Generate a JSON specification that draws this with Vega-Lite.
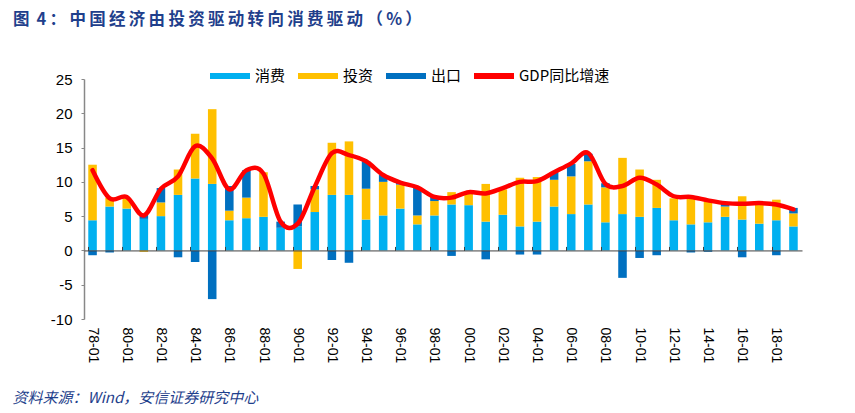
{
  "$schema": "https://vega.github.io/schema/vega-lite/v6.json",
  "width": 718,
  "height": 240,
  "autosize": {"type": "none"},
  "padding": {"left": 84, "top": 79, "right": 53, "bottom": 94},
  "background": "white",
  "title": {
    "text": "图\u2009 4\u2009：\u2009中\u2009国\u2009经\u2009济\u2009由\u2009投\u2009资\u2009驱\u2009动\u2009转\u2009向\u2009消\u2009费\u2009驱\u2009动\u2009（\u2009%\u2009）",
    "anchor": "start",
    "frame": "group",
    "dx": -71,
    "offset": 28,
    "font": "Noto Sans CJK SC",
    "fontSize": 16.5,
    "fontWeight": "bold",
    "color": "#1F3F8C"
  },
  "config": {
    "view": {"stroke": null},
    "legend": {
      "orient": "none",
      "legendX": 126,
      "legendY": -23,
      "direction": "horizontal",
      "title": null,
      "symbolType": "M-1,-0.15H1V0.15H-1Z",
      "symbolSize": 1600,
      "symbolStrokeWidth": 0,
      "labelFont": "Noto Sans CJK SC",
      "labelFontSize": 15,
      "labelColor": "#000000",
      "labelOffset": 5,
      "columnPadding": 12
    }
  },
  "data": {
    "values": [
      {"date": "78-01", "消费": 4.4, "投资": 8.1, "出口": -0.7, "GDP": 11.7},
      {"date": "79-01", "消费": 6.4, "投资": 1.3, "出口": -0.3, "GDP": 7.6},
      {"date": "80-01", "消费": 6.1, "投资": 1.5, "出口": 0.0, "GDP": 7.8},
      {"date": "81-01", "消费": 4.6, "投资": -0.2, "出口": 0.6, "GDP": 5.1},
      {"date": "82-01", "消费": 5.0, "投资": 2.0, "出口": 2.1, "GDP": 9.0},
      {"date": "83-01", "消费": 8.1, "投资": 3.7, "出口": -1.0, "GDP": 10.8},
      {"date": "84-01", "消费": 10.5, "投资": 6.5, "出口": -1.7, "GDP": 15.2},
      {"date": "85-01", "消费": 9.7, "投资": 10.9, "出口": -7.1, "GDP": 13.4},
      {"date": "86-01", "消费": 4.4, "投资": 1.4, "出口": 3.6, "GDP": 8.9},
      {"date": "87-01", "消费": 4.7, "投资": 3.0, "出口": 4.0, "GDP": 11.7},
      {"date": "88-01", "消费": 4.9, "投资": 6.5, "出口": 0.0, "GDP": 11.2},
      {"date": "89-01", "消费": 3.3, "投资": 0.0, "出口": 0.9, "GDP": 4.2},
      {"date": "90-01", "消费": 3.5, "投资": -2.7, "出口": 3.2, "GDP": 3.9},
      {"date": "91-01", "消费": 5.6, "投资": 3.3, "出口": 0.5, "GDP": 9.3},
      {"date": "92-01", "消费": 8.1, "投资": 7.6, "出口": -1.4, "GDP": 14.2},
      {"date": "93-01", "消费": 8.1, "投资": 7.8, "出口": -1.8, "GDP": 13.9},
      {"date": "94-01", "消费": 4.5, "投资": 4.5, "出口": 4.0, "GDP": 13.0},
      {"date": "95-01", "消费": 5.1, "投资": 4.9, "出口": 1.0, "GDP": 11.0},
      {"date": "96-01", "消费": 6.1, "投资": 3.5, "出口": 0.4, "GDP": 9.9},
      {"date": "97-01", "消费": 3.8, "投资": 1.3, "出口": 4.0, "GDP": 9.2},
      {"date": "98-01", "消费": 5.1, "投资": 2.1, "出口": 0.7, "GDP": 7.8},
      {"date": "99-01", "消费": 6.7, "投资": 1.8, "出口": -0.8, "GDP": 7.7},
      {"date": "00-01", "消费": 6.6, "投资": 1.8, "出口": 0.0, "GDP": 8.5},
      {"date": "01-01", "消费": 4.2, "投资": 5.5, "出口": -1.3, "GDP": 8.3},
      {"date": "02-01", "消费": 5.2, "投资": 3.7, "出口": 0.0, "GDP": 9.1},
      {"date": "03-01", "消费": 3.5, "投资": 7.1, "出口": -0.6, "GDP": 10.0},
      {"date": "04-01", "消费": 4.2, "投资": 6.5, "出口": -0.6, "GDP": 10.1},
      {"date": "05-01", "消费": 6.4, "投资": 3.9, "出口": 1.1, "GDP": 11.4},
      {"date": "06-01", "消费": 5.3, "投资": 5.5, "出口": 1.8, "GDP": 12.7},
      {"date": "07-01", "消费": 6.7, "投资": 6.3, "出口": 1.1, "GDP": 14.2},
      {"date": "08-01", "消费": 4.1, "投资": 5.1, "出口": 0.6, "GDP": 9.7},
      {"date": "09-01", "消费": 5.3, "投资": 8.2, "出口": -4.0, "GDP": 9.4},
      {"date": "10-01", "消费": 4.9, "投资": 6.9, "出口": -1.1, "GDP": 10.6},
      {"date": "11-01", "消费": 6.2, "投资": 4.1, "出口": -0.7, "GDP": 9.6},
      {"date": "12-01", "消费": 4.4, "投资": 3.2, "出口": 0.0, "GDP": 7.9},
      {"date": "13-01", "消费": 3.8, "投资": 3.7, "出口": -0.3, "GDP": 7.8},
      {"date": "14-01", "消费": 4.1, "投资": 3.0, "出口": -0.2, "GDP": 7.3},
      {"date": "15-01", "消费": 4.9, "投资": 1.5, "出口": 0.5, "GDP": 6.9},
      {"date": "16-01", "消费": 4.5, "投资": 3.4, "出口": -1.0, "GDP": 6.8},
      {"date": "17-01", "消费": 3.9, "投资": 3.1, "出口": 0.0, "GDP": 6.9},
      {"date": "18-01", "消费": 4.4, "投资": 3.0, "出口": -0.7, "GDP": 6.7},
      {"date": "19-01", "消费": 3.5, "投资": 1.9, "出口": 0.8, "GDP": 6.0}
    ]
  },
  "resolve": {"axis": {"x": "independent"}},
  "layer": [
    {
      "transform": [{"fold": ["消费", "投资", "出口"], "as": ["series", "value"]}],
      "mark": {"type": "bar"},
      "encoding": {
        "x": {
          "field": "date",
          "type": "nominal",
          "sort": null,
          "scale": {"paddingInner": 0.5, "paddingOuter": 0.25},
          "axis": {
            "orient": "bottom",
            "values": ["78-01","80-01","82-01","84-01","86-01","88-01","90-01","92-01","94-01","96-01","98-01","00-01","02-01","04-01","06-01","08-01","10-01","12-01","14-01","16-01","18-01"],
            "domain": false,
            "ticks": false,
            "grid": false,
            "labelAngle": 90,
            "labelAlign": "left",
            "labelBaseline": "middle",
            "labelPadding": 8,
            "labelFont": "Liberation Sans",
            "labelFontSize": 14,
            "labelColor": "#000000",
            "labelOverlap": false,
            "title": "资料来源：Wind，安信证券研究中心",
            "titleFont": "Noto Sans CJK SC",
            "titleFontSize": 15,
            "titleFontStyle": "italic",
            "titleFontWeight": "normal",
            "titleColor": "#1F3F8C",
            "titleAnchor": "start",
            "titleAlign": "left",
            "titleBaseline": "middle",
            "titleX": -72,
            "titleY": 78
          }
        },
        "y": {
          "field": "value",
          "type": "quantitative",
          "stack": "zero",
          "scale": {"domain": [-10, 25], "nice": false},
          "axis": {
            "values": [-10, -5, 0, 5, 10, 15, 20, 25],
            "tickCount": 8,
            "labelExpr": "'' + datum.value",
            "title": null,
            "grid": false,
            "domainColor": "#888888",
            "domainWidth": 1.5,
            "ticks": true,
            "tickColor": "#888888",
            "tickSize": 3,
            "labelPadding": 9,
            "labelFont": "Liberation Sans",
            "labelFontSize": 15,
            "labelColor": "#000000",
            "labelOverlap": false,
            "labelFlush": false
          }
        },
        "color": {
          "field": "series",
          "type": "nominal",
          "scale": {
            "domain": ["消费", "投资", "出口", "GDP同比增速"],
            "range": ["#00B0F0", "#FFC000", "#0070C0", "#FF0000"]
          }
        },
        "order": {"field": "series", "sort": "descending"}
      }
    },
    {
      "mark": {"type": "line", "interpolate": "cardinal", "strokeWidth": 4.5, "strokeCap": "round"},
      "encoding": {
        "x": {
          "field": "date",
          "type": "nominal",
          "sort": null,
          "axis": {
            "orient": "top",
            "offset": -171.43,
            "values": ["78-01","80-01","82-01","84-01","86-01","88-01","90-01","92-01","94-01","96-01","98-01","00-01","02-01","04-01","06-01","08-01","10-01","12-01","14-01","16-01","18-01"],
            "bandPosition": 0,
            "labels": false,
            "title": null,
            "grid": false,
            "domain": true,
            "domainColor": "#404040",
            "domainWidth": 1,
            "ticks": true,
            "tickColor": "#404040",
            "tickSize": 4,
            "zindex": 1
          }
        },
        "y": {
          "field": "GDP",
          "type": "quantitative",
          "axis": {
            "values": [-10, -5, 0, 5, 10, 15, 20, 25],
            "tickCount": 8,
            "labelExpr": "'' + datum.value",
            "title": null,
            "grid": false,
            "domainColor": "#888888",
            "domainWidth": 1.5,
            "ticks": true,
            "tickColor": "#888888",
            "tickSize": 3,
            "labelPadding": 9,
            "labelFont": "Liberation Sans",
            "labelFontSize": 15,
            "labelColor": "#000000",
            "labelOverlap": false,
            "labelFlush": false
          }
        },
        "color": {"datum": "GDP同比增速", "type": "nominal"}
      }
    }
  ]
}
